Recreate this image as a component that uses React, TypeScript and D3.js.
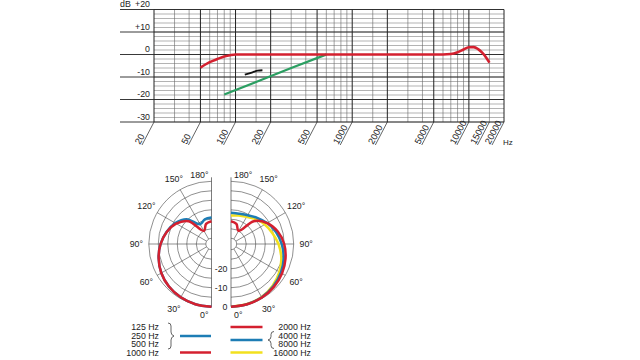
import React from "react";
import * as d3 from "d3";

// frequency response chart
const dbTicks = [20, 10, 0, -10, -20, -30];
const dbLabels = ["+20", "+10", "0", "-10", "-20", "-30"];
const freqLabels = [20, 50, 100, 200, 500, 1000, 2000, 5000, 10000, 15000, 20000];
const gridFreqs = [20, 30, 40, 50, 60, 70, 80, 90, 100, 150, 200, 300, 400, 500, 600, 700, 800, 900,
  1000, 1500, 2000, 3000, 4000, 5000, 6000, 7000, 8000, 9000, 10000, 15000, 20000];
const boldFreqs = [20, 50, 100, 200, 500, 1000, 2000, 5000, 10000, 20000];

const redFreq = [50, 60, 70, 80, 90, 100, 200, 1000, 5000, 6000, 7000, 8000, 9000, 10000, 11000, 12000, 13000, 14000, 15000];
const redDb = [-5.8, -3.4, -2, -0.9, -0.3, 0, 0, 0, 0, 0, 0.2, 1, 2.2, 3.2, 3.3, 2.4, 0.8, -1.2, -3.6];
const greenFreq = [80, 150, 300, 600];
const greenDb = [-17.8, -12.2, -6, 0];
const blackFreq = [120, 140, 155, 170];
const blackDb = [-8.9, -7.9, -7.2, -7.0];

// polar diagrams, dB per angle (0 = front, 180 = rear)
const polarAngles = [0, 15, 30, 45, 60, 75, 90, 105, 120, 135, 150, 165, 180];
const low125to500 = [0, -0.2, -0.6, -1.3, -2.5, -4.2, -6.2, -8.5, -11, -14.5, -21, -19.5, -19];
const mid1000 = [0, -0.2, -0.6, -1.3, -2.5, -4.2, -6.2, -8.6, -11.5, -16, -25, -22, -21];
const hz2000 = [0, -0.2, -0.5, -1.1, -2, -3.3, -5, -7.5, -11, -16, -25, -22, -21];
const hz4000to8000 = [0, -0.2, -0.6, -1.5, -2.7, -4.3, -6.3, -8.5, -11, -13.5, -15.5, -16.5, -16.5];
const hz16000 = [0, -0.3, -0.8, -2, -3.6, -5.6, -8, -10.5, -12.5, -14.5, -16.5, -17.5, -18];
const polarRings = [0, -5, -10, -15, -20, -25, -30];
const ringLabels = [0, -10, -20];
const spokeAngles = [30, 60, 90, 120, 150];
const angleLabels = [30, 60, 90, 120, 150];

const legendLeft = ["125 Hz", "250 Hz", "500 Hz", "1000 Hz"];
const legendRight = ["2000 Hz", "4000 Hz", "8000 Hz", "16000 Hz"];

const RED = "#d4202f";
const BLUE = "#1d7db5";
const GREEN = "#2b9f62";
const YELLOW = "#f2e01e";
const font = "'Liberation Sans', Arial, Helvetica, sans-serif";

const R = 62.7;
const CY = 244;
const LCX = 211.5;
const RCX = 231;

export default function App() {
  const x = d3.scaleLog().domain([20, 20000]).range([154, 504]);
  const y = d3.scaleLinear().domain([-30, 20]).range([122, 9.5]);
  const minorDb = d3.range(-30, 21, 2);

  const resp = d3.line<number>()
    .curve(d3.curveMonotoneX);
  const respPath = (fs: number[], ds: number[]) =>
    resp.x((_, i) => x(fs[i])).y((_, i) => y(ds[i]))(fs as any) || "";

  const r = d3.scaleLinear().domain([-30, 0]).range([5.7, R]);
  const radial = (side: number, vals: number[]) =>
    d3.lineRadial<number>()
      .angle((_, i) => (side > 0 ? Math.PI - (polarAngles[i] * Math.PI) / 180 : Math.PI + (polarAngles[i] * Math.PI) / 180))
      .radius((d) => r(d))
      .curve(d3.curveCatmullRom)(vals) || "";

  const halfGrid = (cx: number, side: number) => {
    const rings = polarRings.map((db) => {
      const p = d3.path();
      const rr = r(db);
      if (side < 0) {
        p.moveTo(cx, CY + rr);
        p.arc(cx, CY, rr, Math.PI / 2, (3 * Math.PI) / 2);
      } else {
        p.moveTo(cx, CY - rr);
        p.arc(cx, CY, rr, -Math.PI / 2, Math.PI / 2);
      }
      return p.toString();
    });
    return (
      <g>
        {rings.map((d, i) => (
          <path key={i} d={d} fill="none" stroke="#444" strokeWidth={0.6} />
        ))}
        {spokeAngles.map((a) => {
          const t = (a * Math.PI) / 180;
          return (
            <line key={a}
              x1={cx + side * r(-30) * Math.sin(t)} y1={CY + r(-30) * Math.cos(t)}
              x2={cx + side * R * Math.sin(t)} y2={CY + R * Math.cos(t)}
              stroke="#444" strokeWidth={0.6} />
          );
        })}
        <line x1={cx} x2={cx} y1={CY - R - 4} y2={CY + R} stroke="#444" strokeWidth={0.7} />
        {angleLabels.map((a) => {
          const t = (a * Math.PI) / 180;
          const rr = R + 12.5;
          return (
            <text key={a} x={cx + side * rr * Math.sin(t)} y={CY + rr * Math.cos(t)}
              textAnchor="middle" dominantBaseline="central">{a}°</text>
          );
        })}
        <text x={cx + side * 3} y={CY - R - 3} textAnchor={side < 0 ? "end" : "start"}>180°</text>
        <text x={cx + side * 3} y={CY + R + 11.5} textAnchor={side < 0 ? "end" : "start"}>0°</text>
      </g>
    );
  };

  return (
    <svg width={640} height={360} style={{ position: "absolute", left: 0, top: 0, background: "#fff" }}
      fontFamily={font} fontSize={8.8} fill="#222">
      {/* frequency response grid */}
      <g>
        {minorDb.map((d) => (
          <line key={"h" + d} x1={x(20)} x2={x(20000)} y1={y(d)} y2={y(d)}
            stroke="#666" strokeWidth={0.5} />
        ))}
        {gridFreqs.map((f) => (
          <line key={"v" + f} x1={x(f)} x2={x(f)} y1={y(20)} y2={y(-30)}
            stroke={boldFreqs.includes(f) ? "#222" : "#666"}
            strokeWidth={boldFreqs.includes(f) ? 1 : 0.6} />
        ))}
        {dbTicks.map((d, i) => (
          <g key={"t" + d}>
            <line x1={120} x2={x(20000)} y1={y(d)} y2={y(d)} stroke="#222" strokeWidth={0.9} />
            <text x={150} y={y(d) - 2.5} textAnchor="end">{dbLabels[i]}</text>
          </g>
        ))}
        <text x={120} y={y(20) - 2.5}>dB</text>
        {freqLabels.map((f) => (
          <g key={"f" + f}>
            <line x1={x(f)} y1={y(-30)} x2={x(f) - 12} y2={y(-30) + 23} stroke="#222" strokeWidth={0.7} />
            <text transform={`translate(${x(f) - 14},${y(-30) + 23}) rotate(-62)`} fontSize={9.2}>{f}</text>
          </g>
        ))}
        <text x={503} y={144.5} fontSize={8}>Hz</text>
      </g>
      <path d={respPath(greenFreq, greenDb)} fill="none" stroke={GREEN} strokeWidth={2.3} />
      <path d={respPath(blackFreq, blackDb)} fill="none" stroke="#111" strokeWidth={1.8} />
      <path d={respPath(redFreq, redDb)} fill="none" stroke={RED} strokeWidth={2.6} />

      {/* polar diagrams */}
      {halfGrid(LCX, -1)}
      {halfGrid(RCX, 1)}
      {ringLabels.map((db) => (
        <text key={"rl" + db} x={227.5} y={CY + r(db)} textAnchor="end" dominantBaseline="central">{db}</text>
      ))}
      <g transform={`translate(${LCX},${CY})`} fill="none" strokeWidth={2.5}>
        <path d={radial(-1, low125to500)} stroke={BLUE} />
        <path d={radial(-1, mid1000)} stroke={RED} />
      </g>
      <g transform={`translate(${RCX},${CY})`} fill="none" strokeWidth={2.5}>
        <path d={radial(1, hz16000)} stroke={YELLOW} />
        <path d={radial(1, hz4000to8000)} stroke={BLUE} />
        <path d={radial(1, hz2000)} stroke={RED} />
      </g>

      {/* legend */}
      {legendLeft.map((t, i) => (
        <text key={t} x={159} y={327 + i * 8.6} textAnchor="end" dominantBaseline="central">{t}</text>
      ))}
      <path d="M168,323 q3,0 3,3 v6 q0,3 3,4 q-3,1 -3,4 v6 q0,3 -3,3" fill="none" stroke="#222" strokeWidth={0.7} />
      <line x1={180} x2={211} y1={336} y2={336} stroke={BLUE} strokeWidth={2.5} />
      <line x1={180} x2={211} y1={352.5} y2={352.5} stroke={RED} strokeWidth={2.5} />
      <line x1={230.5} x2={262.5} y1={327} y2={327} stroke={RED} strokeWidth={2.5} />
      <line x1={230.5} x2={262.5} y1={340} y2={340} stroke={BLUE} strokeWidth={2.5} />
      <line x1={230.5} x2={262.5} y1={352.5} y2={352.5} stroke={YELLOW} strokeWidth={2.5} />
      <path d="M274,331.5 q-3,0 -3,3 v2 q0,3 -3,3.5 q3,0.5 3,3.5 v2 q0,3 3,3" fill="none" stroke="#222" strokeWidth={0.7} />
      {legendRight.map((t, i) => (
        <text key={t} x={311} y={327 + i * 8.6} textAnchor="end" dominantBaseline="central">{t}</text>
      ))}
    </svg>
  );
}
